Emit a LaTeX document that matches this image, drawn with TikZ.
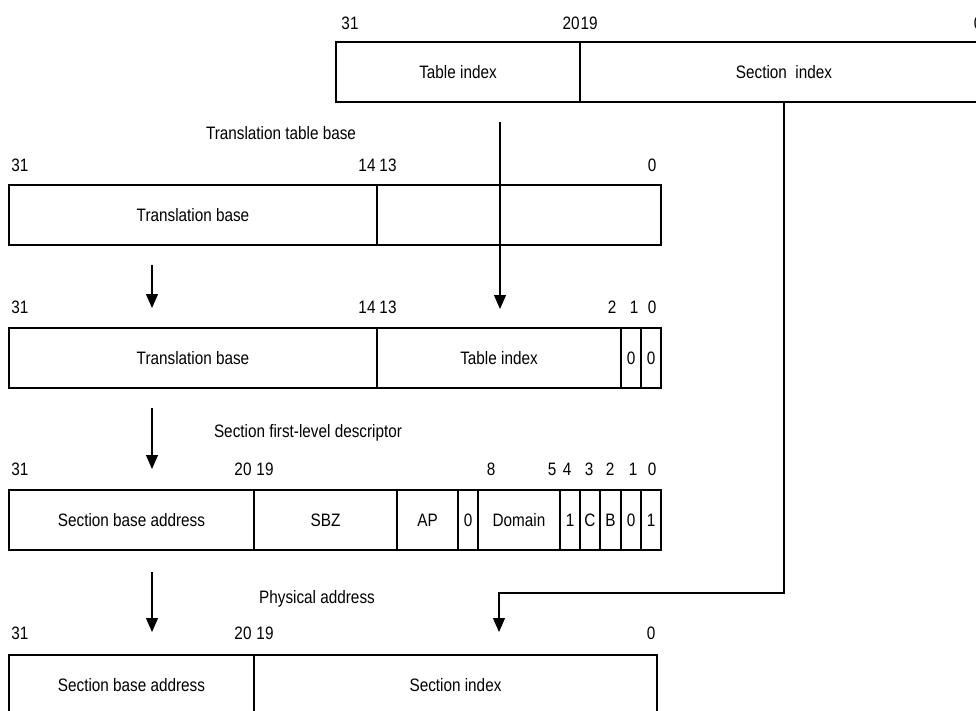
\documentclass[tikz,border=0pt]{standalone}
\usepackage{fontspec}
\setmainfont{Liberation Sans}[FakeStretch=0.85]
\usetikzlibrary{arrows.meta,positioning}

\tikzset{
  field/.style={draw, rectangle, anchor=north west, minimum height=60pt,
    inner sep=0pt, outer sep=0pt},
  bitno/.style={inner sep=0pt},
  flow/.style={-{Triangle[length=14pt,width=12pt]}},
}

\begin{document}
\begin{tikzpicture}[x=1pt, y=-1pt, line width=1.2pt,
    font=\fontsize{18pt}{21pt}\selectfont]
  \useasboundingbox (0,0) rectangle (976,711);

  % virtual address
  \foreach \b/\x in {31/350, 20/571, 19/589, 0/978}
    \node[bitno] (va\b) at (\x,23) {\b};
  \node[field, minimum width=244pt] (vtab) at (336,42) {Table index};
  \node[field, minimum width=408pt] (vsec) at (vtab.north east) {Section\ \ index};

  % translation table base
  \node (ttbtext) at (281,133) {Translation table base};
  \foreach \b/\x in {31/20, 14/367, 13/388, 0/652}
    \node[bitno] (tb\b) at (\x,165) {\b};
  \node[field, minimum width=368pt] (tbase) at (9,185) {Translation base};
  \node[field, minimum width=284pt] (tlow) at (tbase.north east) {};

  % first-level descriptor address
  \foreach \b/\x in {31/20, 14/367, 13/388, 2/612, 1/634, 0/652}
    \node[bitno] (fa\b) at (\x,307) {\b};
  \node[field, minimum width=368pt] (fbase) at (9,328) {Translation base};
  \node[field, minimum width=244pt] (ftab) at (fbase.north east) {Table index};
  \node[field, minimum width=20pt] (fz1) at (ftab.north east) {0};
  \node[field, minimum width=20pt] (fz0) at (fz1.north east) {0};

  % section first-level descriptor
  \node (sfltext) at (308,433) {Section first-level descriptor};
  \foreach \b/\x in {31/20, 20/243, 19/265, 8/491, 5/552, 4/567, 3/589, 2/610, 1/633, 0/652}
    \node[bitno] (sd\b) at (\x,469) {\b};
  \node[field, minimum width=245pt] (dbase) at (9,490) {Section base address};
  \node[field, minimum width=143pt] (dsbz) at (dbase.north east) {SBZ};
  \node[field, minimum width=61pt] (dap) at (dsbz.north east) {AP};
  \node[field, minimum width=20pt] (dz9) at (dap.north east) {0};
  \node[field, minimum width=82pt] (ddom) at (dz9.north east) {Domain};
  \node[field, minimum width=20pt] (dfour) at (ddom.north east) {1};
  \node[field, minimum width=20pt] (dc) at (dfour.north east) {C};
  \node[field, minimum width=21pt] (db) at (dc.north east) {B};
  \node[field, minimum width=20pt] (dz1) at (db.north east) {0};
  \node[field, minimum width=20pt] (done) at (dz1.north east) {1};

  % physical address
  \node (patext) at (317,599) {Physical address};
  \foreach \b/\x in {31/20, 20/243, 19/265, 0/651}
    \node[bitno] (pa\b) at (\x,633) {\b};
  \node[field, minimum width=245pt] (pbase) at (9,655) {Section base address};
  \node[field, minimum width=403pt] (psec) at (pbase.north east) {Section index};

  % arrows
  \coordinate (l1s) at (152,265);
  \coordinate (l1e) at (152,308);
  \coordinate (l2s) at (152,408);
  \coordinate (l2e) at (152,469);
  \coordinate (l3s) at (152,572);
  \coordinate (l3e) at (152,632);
  \coordinate (tis) at (500,122);
  \coordinate (tie) at (500,309);
  \coordinate (sturn) at (499,593);
  \coordinate (send) at (499,632);
  \draw[flow] (l1s) -- (l1e);
  \draw[flow] (l2s) -- (l2e);
  \draw[flow] (l3s) -- (l3e);
  \draw[flow] (tis) -- (tie);
  \draw[flow] (vsec.south) |- (sturn) -- (send);
\end{tikzpicture}
\end{document}
